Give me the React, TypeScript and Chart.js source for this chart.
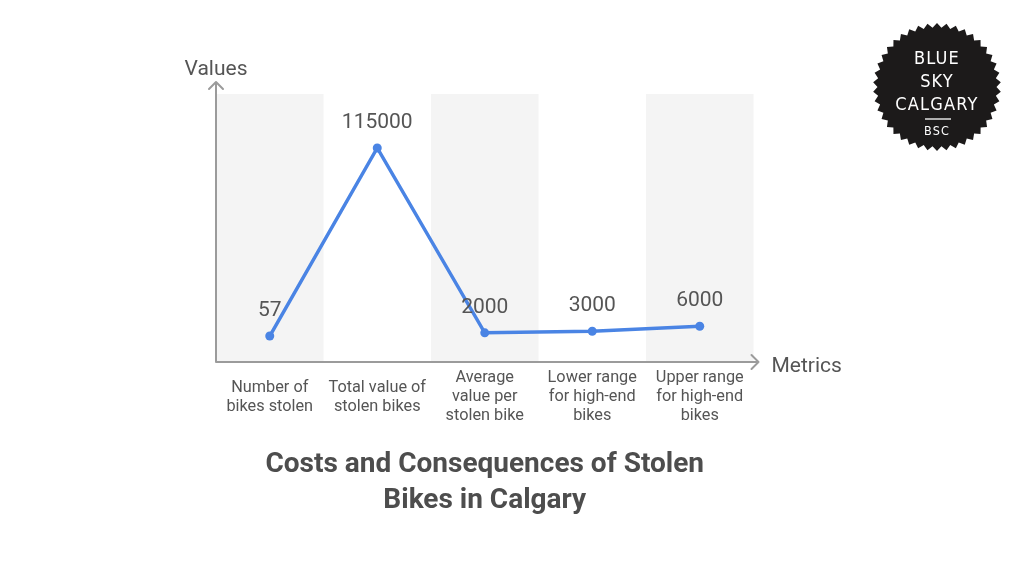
import React, { useEffect, useRef } from "react";
import { Chart, registerables } from "chart.js";

Chart.register(...registerables);

const categories: string[][] = [
  ["Number of", "bikes stolen"],
  ["Total value of", "stolen bikes"],
  ["Average", "value per", "stolen bike"],
  ["Lower range", "for high-end", "bikes"],
  ["Upper range", "for high-end", "bikes"],
];
const values: number[] = [57, 115000, 2000, 3000, 6000];
const valueLabels: string[] = ["57", "115000", "2000", "3000", "6000"];
const titleLines: string[] = ["Costs and Consequences of Stolen", "Bikes in Calgary"];
const yAxisTitle = "Values";
const xAxisTitle = "Metrics";
const Y_MIN = -15830;
const Y_MAX = 148000;

const FONT = "Roboto, 'Noto Sans', sans-serif";
const TEXT = "#555555";
const AXIS = "#9b9b9b";
const BLUE = "#4a84e4";
const BAND = "#f4f4f4";

const decorPlugin = {
  id: "decor",
  beforeDatasetsDraw(chart: any) {
    const { ctx, chartArea, scales } = chart;
    const xs = scales.x;
    const half = (xs.getPixelForValue(1) - xs.getPixelForValue(0)) / 2;
    ctx.save();
    ctx.fillStyle = BAND;
    categories.forEach((_, i) => {
      if (i % 2 === 0) {
        const cx = xs.getPixelForValue(i);
        ctx.fillRect(cx - half, chartArea.top, half * 2, chartArea.bottom - chartArea.top);
      }
    });
    // axes
    const x0 = chartArea.left;
    const y0 = chartArea.bottom;
    ctx.strokeStyle = AXIS;
    ctx.lineWidth = 2;
    ctx.lineCap = "round";
    ctx.lineJoin = "round";
    ctx.beginPath();
    ctx.moveTo(x0, y0);
    ctx.lineTo(x0, chartArea.top - 12);
    ctx.moveTo(x0 - 7, chartArea.top - 5);
    ctx.lineTo(x0, chartArea.top - 12);
    ctx.lineTo(x0 + 7, chartArea.top - 5);
    ctx.moveTo(x0, y0);
    const xr = chartArea.right + 5;
    ctx.lineTo(xr, y0);
    ctx.moveTo(xr - 7, y0 - 7);
    ctx.lineTo(xr, y0);
    ctx.lineTo(xr - 7, y0 + 7);
    ctx.stroke();
    ctx.restore();
  },
  afterDatasetsDraw(chart: any) {
    const { ctx, chartArea, scales } = chart;
    const xs = scales.x;
    const meta = chart.getDatasetMeta(0);
    ctx.save();
    ctx.fillStyle = TEXT;
    ctx.textAlign = "center";
    ctx.textBaseline = "alphabetic";
    // value labels
    ctx.font = `400 21px ${FONT}`;
    meta.data.forEach((pt: any, i: number) => {
      ctx.fillText(valueLabels[i], pt.x, pt.y - 20);
    });
    // tick labels
    ctx.font = `400 16.3px ${FONT}`;
    const mid = chartArea.bottom + 39;
    categories.forEach((lines, i) => {
      const cx = xs.getPixelForValue(i);
      lines.forEach((ln, j) => {
        ctx.fillText(ln, cx, mid + (j - (lines.length - 1) / 2) * 19);
      });
    });
    // axis titles
    ctx.font = `400 21px ${FONT}`;
    ctx.fillText(yAxisTitle, chartArea.left, chartArea.top - 19);
    ctx.textAlign = "left";
    ctx.fillText(xAxisTitle, chartArea.right + 18, chartArea.bottom + 10);
    // title
    ctx.textAlign = "center";
    ctx.fillStyle = "#4d4d4d";
    ctx.font = `700 28px ${FONT}`;
    const tc = (chartArea.left + chartArea.right) / 2;
    titleLines.forEach((ln, j) => {
      ctx.fillText(ln, tc, chartArea.bottom + 110 + j * 36);
    });
    ctx.restore();
  },
};

function Logo() {
  const cx = 937;
  const cy = 87;
  const n = 42;
  const pts: string[] = [];
  for (let k = 0; k < n * 2; k++) {
    const r = k % 2 === 0 ? 64 : 59.5;
    const a = (Math.PI * k) / n - Math.PI / 2;
    pts.push(`${(cx + r * Math.cos(a)).toFixed(2)},${(cy + r * Math.sin(a)).toFixed(2)}`);
  }
  const lf = "'Liberation Sans Narrow', 'DejaVu Sans Condensed', sans-serif";
  return (
    <svg
      width={1024}
      height={576}
      style={{ position: "absolute", left: 0, top: 0, pointerEvents: "none" }}
    >
      <polygon points={pts.join(" ")} fill="#1c1a1a" />
      <g fill="#ffffff" fontFamily={lf} textAnchor="middle" letterSpacing="1.2" fontWeight={500}>
        <text x={cx} y={63.5} fontSize={18}>BLUE</text>
        <text x={cx} y={86.5} fontSize={18}>SKY</text>
        <text x={cx} y={109.5} fontSize={18}>CALGARY</text>
        <text x={cx} y={135} fontSize={12.5}>BSC</text>
      </g>
      <line x1={925} y1={119} x2={951} y2={119} stroke="#ffffff" strokeWidth={1.3} />
    </svg>
  );
}

export default function App() {
  const ref = useRef<HTMLCanvasElement | null>(null);
  useEffect(() => {
    if (!ref.current) return;
    const chart = new Chart(ref.current, {
      type: "line",
      data: {
        labels: categories.map((c) => c.join(" ")),
        datasets: [
          {
            data: values,
            borderColor: BLUE,
            backgroundColor: BLUE,
            borderWidth: 3.5,
            pointRadius: 4.5,
            pointBackgroundColor: BLUE,
            pointBorderWidth: 0,
            tension: 0,
            fill: false,
          },
        ],
      },
      options: {
        responsive: false,
        animation: false,
        devicePixelRatio: 1,
        layout: { padding: { left: 216, top: 94, right: 270.5, bottom: 214 } },
        plugins: { legend: { display: false }, tooltip: { enabled: false }, title: { display: false } },
        scales: {
          x: { type: "category", offset: true, display: false },
          y: { type: "linear", min: Y_MIN, max: Y_MAX, display: false },
        },
      },
      plugins: [decorPlugin],
    });
    return () => chart.destroy();
  }, []);
  return (
    <div style={{ position: "absolute", left: 0, top: 0, width: 1024, height: 576, background: "#ffffff" }}>
      <canvas ref={ref} width={1024} height={576} style={{ display: "block" }} />
      <Logo />
    </div>
  );
}
